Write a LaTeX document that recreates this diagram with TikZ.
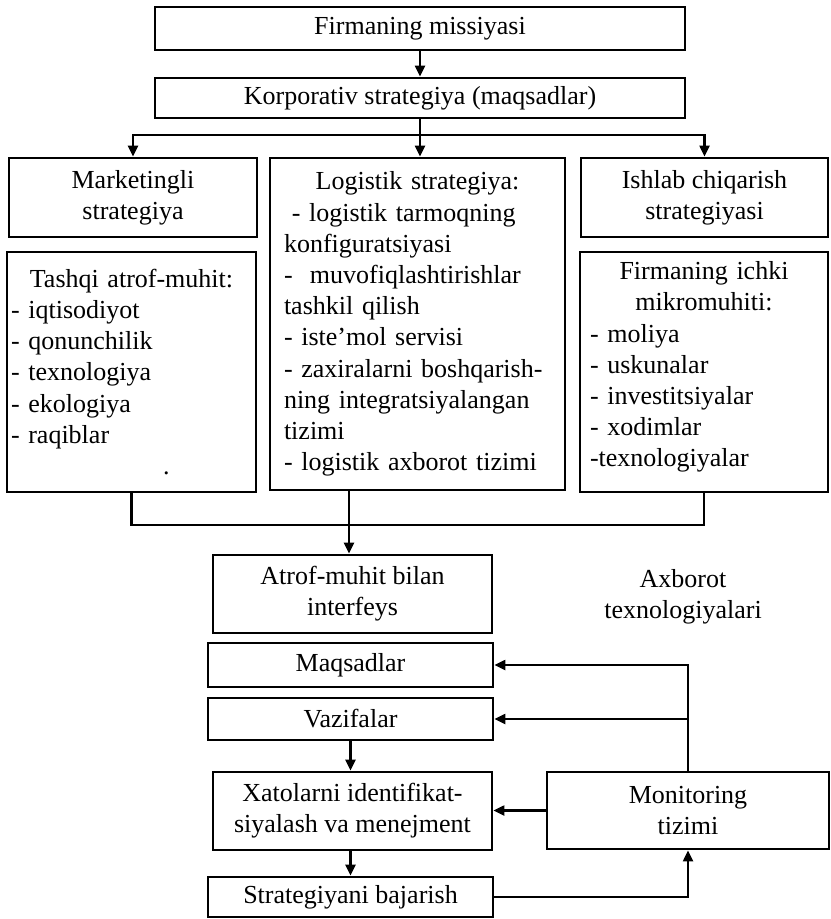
\documentclass[tikz,border=0pt]{standalone}
\usepackage{fontspec}
\setmainfont{Liberation Serif}
\usetikzlibrary{arrows.meta}

\begin{document}
\begin{tikzpicture}[x=0.5pt,y=-0.5pt,
  font=\fontsize{13}{15.6}\selectfont,
  >={Triangle[length=5.5pt,width=5pt]},
  blok/.style={draw,line width=1.4pt,inner sep=2pt},
  chiziq/.style={line width=1.1pt}]

\useasboundingbox (0,0) rectangle (830,919);

% Missiya va korporativ strategiya
\node[blok,minimum width=265pt,minimum height=21.5pt] (mis) at (420,28.5) {Firmaning missiyasi};
\node[blok,minimum width=265pt,minimum height=20pt] (korp) at (420,98) {Korporativ strategiya (maqsadlar)};

% Uchta funksional strategiya
\node[blok,minimum width=124pt,minimum height=39.5pt,align=center] (mark) at (133,197.5)
  {Marketingli\\strategiya};
\node[blok,minimum width=147.5pt,minimum height=166pt,align=left,text width=133.5pt,inner xsep=7pt]
  (logi) at (417.5,324)
  {\makebox[\linewidth][c]{Logistik strategiya:}\\
   \hspace*{0.3em}- logistik tarmoqning\\
   konfiguratsiyasi\\
   -\ \ muvofiqlashtirishlar\\
   tashkil qilish\\
   - iste’mol servisi\\
   - zaxiralarni boshqarish-\\
   ning integratsiyalangan\\
   tizimi\\
   - logistik axborot tizimi};
\node[blok,minimum width=123.5pt,minimum height=39.5pt,align=center] (ishl) at (704.5,197.5)
  {Ishlab chiqarish\\strategiyasi};

% Tashqi va ichki muhit
\node[blok,minimum width=124.5pt,minimum height=120pt,align=left,text width=120.5pt] (tash) at (131.5,372)
  {\makebox[\linewidth][c]{Tashqi atrof-muhit:}\\
   - iqtisodiyot\\
   - qonunchilik\\
   - texnologiya\\
   - ekologiya\\
   - raqiblar\\
   \hspace*{76pt}.};
\node[blok,minimum width=124pt,minimum height=120pt,align=left,text width=114pt,inner xsep=5pt] (ichki) at (704,372)
  {\makebox[\linewidth][c]{Firmaning ichki}\\
   \makebox[\linewidth][c]{mikromuhiti:}\\
   - moliya\\
   - uskunalar\\
   - investitsiyalar\\
   - xodimlar\\
   -texnologiyalar\vspace*{5pt}};

% Quyi qism
\node[blok,minimum width=139.5pt,minimum height=39pt,align=center] (atrof) at (352.5,594)
  {Atrof-muhit bilan\\interfeys};
\node[align=center] (axb) at (683,597) {Axborot\\texnologiyalari};
\node[blok,minimum width=142.5pt,minimum height=22pt] (maqs) at (350.5,665) {Maqsadlar};
\node[blok,minimum width=142.5pt,minimum height=21pt] (vazi) at (350.5,719) {Vazifalar};
\node[blok,minimum width=139.5pt,minimum height=39pt,align=center] (xato) at (352.5,811)
  {Xatolarni identifikat-\\siyalash va menejment};
\node[blok,minimum width=141pt,minimum height=38.5pt,align=center] (moni) at (688,810.5)
  {Monitoring\\tizimi};
\node[blok,minimum width=142.5pt,minimum height=20pt] (bajar) at (350.5,897) {Strategiyani bajarish};

% Bog'lanishlar
\coordinate (ayir) at (420,135);
\coordinate (yig) at (349,525);
\draw[chiziq,->] (mis) -- (korp);
\draw[chiziq] (korp.south) -- (ayir);
\draw[chiziq,->] (ayir) -| (mark.north);
\draw[chiziq,->] (ayir) -| (ishl.north);
\draw[chiziq,->] (ayir) -- (logi.north -| ayir);
\draw[chiziq] (tash.south) |- (yig) -| (ichki.south);
\draw[chiziq,->] (logi.south -| yig) -- (atrof.north -| yig);
\draw[chiziq,->] (vazi.south) -- (xato.north -| vazi.south);
\draw[chiziq,->] (xato.south -| bajar.north) -- (bajar.north);
\draw[chiziq,->] (moni.north) |- (maqs.east);
\draw[chiziq,->] (moni.north |- vazi.east) -- (vazi.east);
\draw[chiziq,->] (moni.west) -- (xato.east |- moni.west);
\draw[chiziq,->] (bajar.east) -| (moni.south);

\end{tikzpicture}
\end{document}
